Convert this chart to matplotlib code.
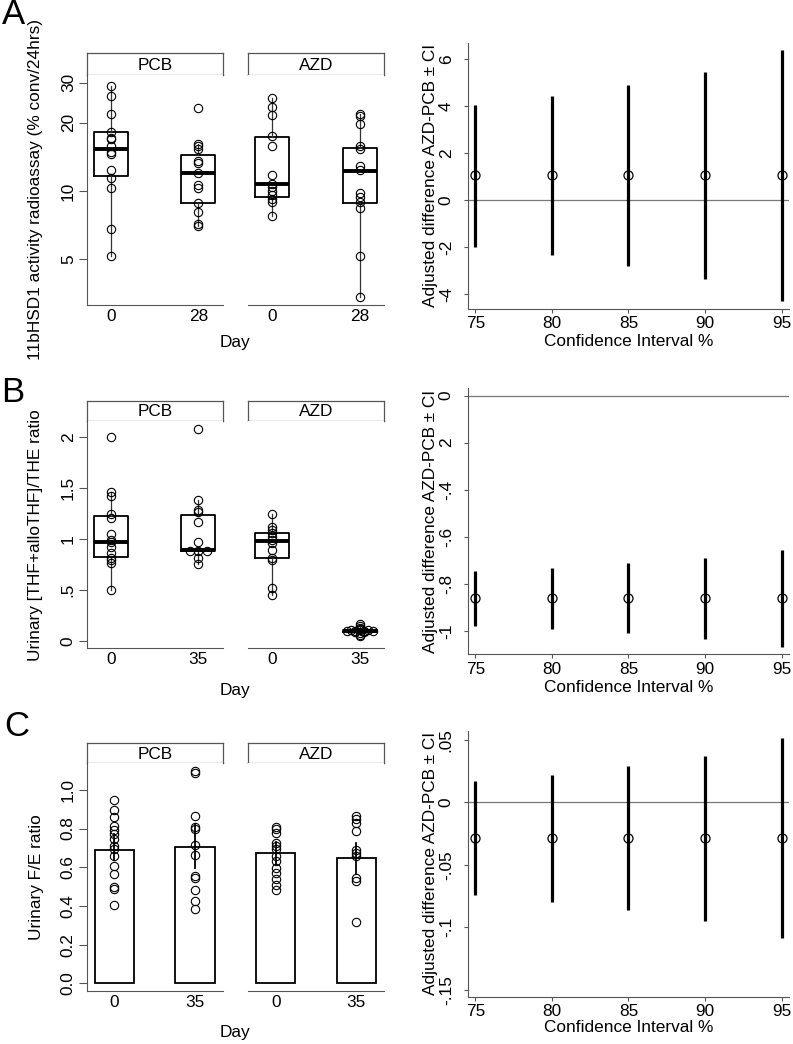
import numpy as np
import matplotlib.pyplot as plt

plt.rcParams['font.family'] = ['Liberation Sans', 'DejaVu Sans']
plt.rcParams['font.size'] = 12.4

W, H = 793, 1044
GRAY = "#555555"

groups = ["PCB", "AZD"]

# ---- Panel A: 11bHSD1 activity (log scale), order PCB d0, PCB d28, AZD d0, AZD d28
a_days = ["0", "28"]
a_pcb_d0 = [29.1, 26.3, 21.8, 18.2, 17.1, 16.9, 15.7, 14.9, 14.6, 12.4, 11.4, 10.3, 6.78, 5.17]
a_pcb_d28 = [23.3, 16.1, 15.8, 15.3, 13.6, 13.3, 12.0, 10.6, 10.3, 8.89, 8.08, 7.16, 7.01]
a_azd_d0 = [25.6, 23.5, 21.5, 17.4, 15.7, 11.8, 10.7, 10.4, 10.0, 9.6, 9.2, 8.97, 7.76]
a_azd_d28 = [21.8, 21.3, 19.7, 15.7, 15.3, 12.9, 12.4, 9.8, 9.44, 8.97, 8.39, 5.19, 3.40]
a_q1 = [11.7, 8.9, 9.41, 8.83]
a_med = [15.25, 12.0, 10.7, 12.3]
a_q3 = [18.1, 14.4, 17.2, 15.4]
a_wlo = [5.17, 7.0, 7.76, 3.40]
a_whi = [29.1, 16.1, 25.6, 21.8]

# ---- Panel B: urinary [THF+alloTHF]/THE ratio
b_days = ["0", "35"]
b_pcb_d0 = [2.0, 1.46, 1.42, 1.245, 1.21, 1.05, 0.99, 0.97, 0.925, 0.86, 0.81, 0.79, 0.76, 0.5]
b_pcb_d35 = [2.075, 1.38, 1.28, 1.26, 1.17, 0.975, 0.88, 0.88, 0.88, 0.81, 0.755]
b_azd_d0 = [1.245, 1.12, 1.09, 1.055, 1.02, 0.99, 0.96, 0.89, 0.81, 0.795, 0.516, 0.45]
b_azd_d35 = [0.17, 0.15, 0.13, 0.12, 0.11, 0.11, 0.11, 0.10, 0.10, 0.10, 0.10,
             0.09, 0.09, 0.08, 0.06, 0.05]
b_q1 = [0.82, 0.88, 0.81, 0.09]
b_med = [0.97, 0.89, 0.98, 0.10]
b_q3 = [1.23, 1.24, 1.055, 0.11]
b_wlo = [0.5, 0.755, 0.45, 0.06]
b_whi = [1.46, 1.38, 1.245, 0.14]

# ---- Panel C: urinary F/E ratio
c_days = ["0", "35"]
c_pcb_d0 = [0.948, 0.896, 0.862, 0.813, 0.79, 0.77, 0.744, 0.709, 0.692, 0.657, 0.606,
            0.566, 0.498, 0.49, 0.403]
c_pcb_d35 = [1.099, 1.087, 0.865, 0.808, 0.80, 0.713, 0.663, 0.554, 0.542, 0.481, 0.424, 0.384]
c_azd_d0 = [0.81, 0.796, 0.775, 0.723, 0.709, 0.692, 0.657, 0.631, 0.597, 0.571, 0.54, 0.51, 0.481]
c_azd_d35 = [0.865, 0.848, 0.83, 0.787, 0.687, 0.675, 0.657, 0.542, 0.531, 0.315]
c_mean = [0.689, 0.704, 0.671, 0.647]
c_lo = [0.635, 0.598, 0.615, 0.567]
c_hi = [0.770, 0.822, 0.729, 0.727]

# ---- Right panels: adjusted difference AZD-PCB with CIs
ci_levels = [75, 80, 85, 90, 95]
ra_est = 1.06
ra_lo = [-1.97, -2.33, -2.78, -3.36, -4.27]
ra_hi = [4.06, 4.44, 4.89, 5.48, 6.40]
rb_est = -0.862
rb_lo = [-0.980, -0.994, -1.011, -1.034, -1.068]
rb_hi = [-0.745, -0.732, -0.713, -0.692, -0.657]
rc_est = -0.0285
rc_lo = [-0.0741, -0.0795, -0.0861, -0.0947, -0.1083]
rc_hi = [0.0171, 0.0221, 0.0291, 0.0373, 0.0515]

fig = plt.figure(figsize=(W / 100, H / 100), dpi=100)


def px_axes(x0, y0, x1, y1):
    return fig.add_axes([x0 / W, 1 - y1 / H, (x1 - x0) / W, (y1 - y0) / H])


def ftext(x, y, s, **kw):
    fig.text(x / W, 1 - y / H, s, **kw)


def tie_offsets(vals, step=0.1):
    vals = np.asarray(vals)
    off = np.zeros(len(vals))
    for v in np.unique(vals):
        idx = np.where(vals == v)[0]
        k = len(idx)
        if k > 1:
            off[idx] = (np.arange(k) - (k - 1) / 2) * step
    return off


def strip(x0, x1, y0, y1, label):
    s = px_axes(x0, y0, x1, y1)
    s.set_xticks([])
    s.set_yticks([])
    for sp in s.spines.values():
        sp.set_color(GRAY)
        sp.set_linewidth(0.9)
    s.text(0.5, 0.45, label, ha="center", va="center", transform=s.transAxes)


def facet_axes(x0, x1, y0, y1, first):
    ax = px_axes(x0, y0, x1, y1)
    for k in ["top", "right"]:
        ax.spines[k].set_visible(False)
    ax.spines["bottom"].set_color(GRAY)
    ax.spines["left"].set_color(GRAY)
    if not first:
        ax.spines["left"].set_visible(False)
        ax.tick_params(axis="y", left=False, labelleft=False)
    ax.tick_params(axis="y", length=5.8, width=0.8, color=GRAY, pad=2)
    ax.tick_params(axis="x", length=0, pad=3)
    return ax


def left_panel(y_strip, y_top, y_bot, series, days, kind, stats, ylim, yticks, yticklabels,
               xlim, width, log=False):
    facets = [(86.7, 222.7), (248, 384)]
    for g, (x0, x1) in enumerate(facets):
        strip(x0, x1, y_strip, y_top, groups[g])
        ax = facet_axes(x0, x1, y_top, y_bot, g == 0)
        if log:
            ax.set_yscale("log")
        for j in range(2):
            i = 2 * g + j
            vals = series[i]
            if kind == "box":
                q1, med, q3, lo, hi = [s[i] for s in stats]
                ax.bxp([{"q1": q1, "med": med, "q3": q3, "whislo": lo, "whishi": hi,
                         "fliers": []}], positions=[j], widths=width, showcaps=False,
                       showfliers=False, patch_artist=False,
                       boxprops=dict(color="black", linewidth=1.3),
                       medianprops=dict(color="black", linewidth=2.8),
                       whiskerprops=dict(color="#333333", linewidth=0.9),
                       manage_ticks=False)
            else:
                mean, lo, hi = [s[i] for s in stats]
                ax.bar(j, mean, width=width, facecolor="white", edgecolor="black",
                       linewidth=1.3, zorder=1)
                ax.plot([j, j], [lo, hi], color="black", lw=1.3, zorder=2)
            ax.plot(j + tie_offsets(vals), vals, "o", ms=6, mfc="none", mec="black",
                    mew=0.8, zorder=3)
        ax.set_xlim(*xlim)
        ax.set_ylim(*ylim)
        ax.set_xticks([0, 1])
        ax.set_xticklabels(days)
        ax.set_yticks(yticks)
        ax.set_yticklabels(yticklabels, rotation=90, va="center")
        ax.yaxis.set_minor_locator(plt.NullLocator())


def right_panel(y_top, y_bot, est, lo, hi, ylim, yticks, yticklabels):
    ax = px_axes(467.7, y_top, 789.3, y_bot)
    for k in ["top", "right"]:
        ax.spines[k].set_visible(False)
    ax.spines["bottom"].set_color(GRAY)
    ax.spines["left"].set_color(GRAY)
    ax.axhline(0, color="#777777", lw=0.9, zorder=1)
    ax.vlines(ci_levels, lo, hi, color="black", lw=2.3, zorder=2)
    ax.plot(ci_levels, [est] * len(ci_levels), "o", ms=6.5, mfc="none", mec="black",
            mew=0.9, zorder=3)
    ax.set_xlim(74.5, 95.5)
    ax.set_ylim(*ylim)
    ax.set_xticks(ci_levels)
    ax.set_yticks(yticks)
    ax.set_yticklabels(yticklabels, rotation=90, va="center")
    ax.tick_params(axis="y", length=3, width=0.8, color=GRAY, pad=7)
    ax.tick_params(axis="x", length=3, width=0.8, color=GRAY, pad=2.2)


# ---- Panel A
left_panel(53, 75, 305, [a_pcb_d0, a_pcb_d28, a_azd_d0, a_azd_d28], a_days, "box",
           [a_q1, a_med, a_q3, a_wlo, a_whi], (3.15, 32.4), [5, 10, 20, 30],
           ["5", "10", "20", "30"], (-0.28, 1.28), 0.39, log=True)
right_panel(42.7, 308.7, ra_est, ra_lo, ra_hi, (-4.61, 6.71),
            [-4, -2, 0, 2, 4, 6], ["-4", "-2", "0", "2", "4", "6"])

# ---- Panel B
left_panel(400.7, 421, 648.3, [b_pcb_d0, b_pcb_d35, b_azd_d0, b_azd_d35], b_days, "box",
           [b_q1, b_med, b_q3, b_wlo, b_whi], (-0.072, 2.157), [0, 0.5, 1, 1.5, 2],
           ["0", ".5", "1", "1.5", "2"], (-0.28, 1.28), 0.39)
right_panel(388.3, 654.3, rb_est, rb_lo, rb_hi, (-1.10, 0.031),
            [0, -0.2, -0.4, -0.6, -0.8, -1], ["0", "2", "-.4", "-.6", "-.8", "-1"])

# ---- Panel C
left_panel(742.7, 763.3, 990.7, [c_pcb_d0, c_pcb_d35, c_azd_d0, c_azd_d35], c_days, "bar",
           [c_mean, c_lo, c_hi], (-0.038, 1.137), [0, 0.2, 0.4, 0.6, 0.8, 1.0],
           ["0.0", "0.2", "0.4", "0.6", "0.8", "1.0"], (-0.343, 1.343), 0.49)
right_panel(730.7, 996.7, rc_est, rc_lo, rc_hi, (-0.1555, 0.0573),
            [0.05, 0, -0.05, -0.1, -0.15], [".05", "0", "-.05", "-.1", "-.15"])

# ---- Labels
ylabels = ["11bHSD1 activity radioassay (% conv/24hrs)", "Urinary [THF+alloTHF]/THE ratio",
           "Urinary F/E ratio"]
ycent = [190, 535, 877]
day_y = [342, 690, 1032]
ci_y = [341.7, 687, 1027]
right_cent = [175.7, 521.3, 863.7]
for k in range(3):
    ftext(36, ycent[k], ylabels[k], rotation=90, ha="center", va="center")
    ftext(235, day_y[k], "Day", ha="center", va="center")
    ftext(628.5, ci_y[k], "Confidence Interval %", ha="center", va="center")
    ftext(430, right_cent[k], "Adjusted difference AZD-PCB \u00b1 CI", rotation=90,
          ha="center", va="center")

for letter, (x, y) in zip("ABC", [(13, 15), (13, 392), (17, 726)]):
    ftext(x, y, letter, fontsize=25, ha="center", va="center")

fig.savefig("out.png", dpi=100)
